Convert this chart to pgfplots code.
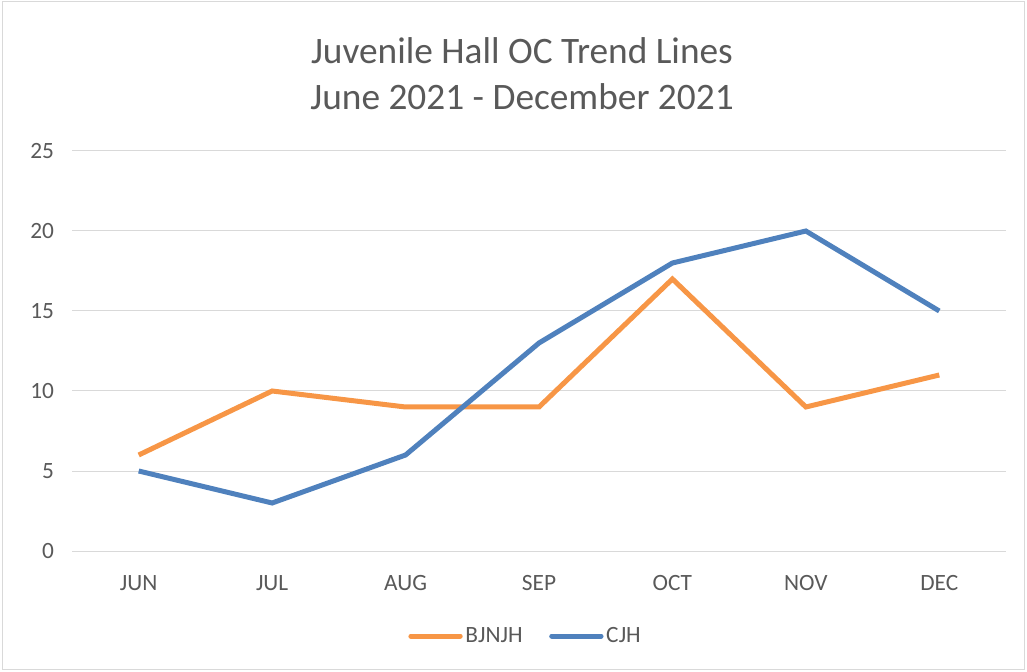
\documentclass[border=0pt]{standalone}
\usepackage{pgfplots}
\pgfplotsset{compat=1.18}
\usepackage{fontspec}
\setmainfont{Carlito}
\definecolor{bjorange}{HTML}{F79646}
\definecolor{cjblue}{HTML}{4F81BD}
\definecolor{txtgray}{HTML}{595959}
\definecolor{gridgray}{HTML}{D9D9D9}

\begin{document}
\begin{tikzpicture}
\useasboundingbox (0,0) rectangle (770.25pt,503.25pt);
\draw[gridgray, line width=0.75pt] (1.5pt,1pt) rectangle (768.5pt,502.25pt);
\node[text=txtgray, font=\fontsize{28}{35}\selectfont, align=center] at (391.5pt,448pt)
  {Juvenile Hall OC Trend Lines\\June 2021 - December 2021};
\begin{axis}[
  at={(54pt,90pt)}, anchor=south west,
  scale only axis,
  width=700.5pt, height=300pt,
  xmin=-0.5, xmax=6.5,
  ymin=0, ymax=25,
  xtick={0,1,2,3,4,5,6},
  xticklabels={JUN,JUL,AUG,SEP,OCT,NOV,DEC},
  ytick={0,5,10,15,20,25},
  axis line style={draw=none},
  major tick length=0pt,
  ymajorgrids,
  grid style={gridgray, line width=0.75pt},
  tick label style={text=txtgray, font=\fontsize{17.5}{21}\selectfont},
  /pgf/number format/assume math mode=true,
  yticklabel style={xshift=-10pt},
  xticklabel style={yshift=-15pt},
  legend columns=2,
  legend style={at={(0.486,-0.2125)}, anchor=center, draw=none, fill=none,
    font=\fontsize{17.5}{21}\selectfont, text=txtgray,
    /tikz/every even column/.append style={column sep=18pt}},
  legend image code/.code={\draw[#1, line cap=round] (0pt,0pt) -- (37pt,0pt);},
  every axis plot/.append style={line width=3.75pt},
]
\draw[gridgray, line width=0.75pt] (axis cs:-0.5,0) -- (axis cs:6.5,0);
\addplot[bjorange, mark=none] coordinates {(0,6) (1,10) (2,9) (3,9) (4,17) (5,9) (6,11)};
\addplot[cjblue, mark=none] coordinates {(0,5) (1,3) (2,6) (3,13) (4,18) (5,20) (6,15)};
\legend{BJNJH, CJH}
\end{axis}
\end{tikzpicture}
\end{document}
